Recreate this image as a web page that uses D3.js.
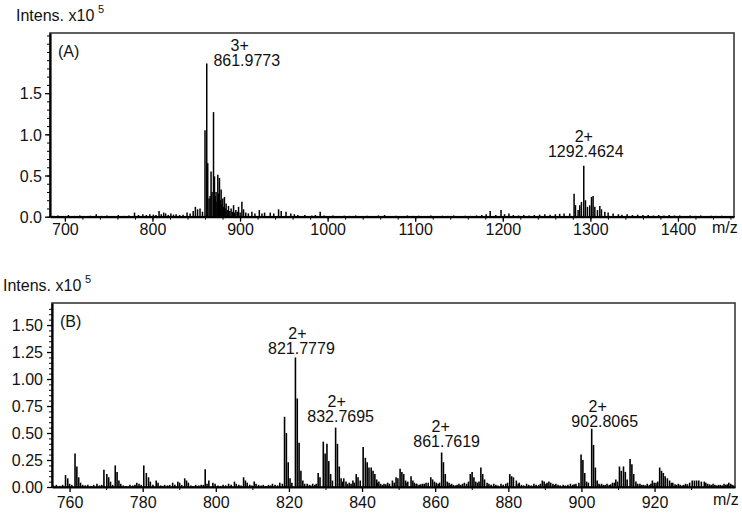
<!DOCTYPE html>
<meta charset="utf-8">

<head>
    <style>
        body {
            margin: 0;
            background: #fff;
        }

        svg text {
            font-family: "Liberation Sans", Arial, sans-serif;
            fill: #111;
        }

        .axis path,
        .axis line {
            stroke: #000;
        }

        .axis text {
            font-size: 16px;
        }
    </style>
</head>

<body>
    <script src="https://d3js.org/d3.v7.min.js"></script>
    <script>
        // ---- data: [m/z, intensity x10^5] ----
        var peaksA = [
            [735.8, 0.03], [779.5, 0.05], [789.0, 0.03], [797.0, 0.03], [807.5, 0.07], [812.8, 0.05],
            [815.0, 0.04], [821.0, 0.04], [827.0, 0.03], [839.5, 0.05], [843.0, 0.04], [846.5, 0.07],
            [849.0, 0.12], [851.5, 0.09], [854.3, 0.10], [857.1, 0.06], [860.0, 1.05], [861.9773, 1.86],
            [863.1, 0.65], [864.6, 0.22], [865.8, 0.25], [866.9, 0.55], [868.0, 0.30], [869.7, 1.27],
            [870.8, 0.49], [871.6, 0.25], [872.6, 0.30], [873.6, 0.18], [874.6, 0.51], [875.6, 0.28],
            [876.5, 0.47], [877.5, 0.20], [878.4, 0.33], [879.3, 0.15], [880.3, 0.22], [881.2, 0.12],
            [882.2, 0.24], [883.1, 0.10], [884.1, 0.16], [885.5, 0.08], [886.8, 0.13], [888.3, 0.07],
            [889.8, 0.10], [891.2, 0.06], [892.6, 0.14], [893.9, 0.05], [895.2, 0.08], [896.8, 0.06],
            [898.3, 0.12], [900.1, 0.05], [902.1, 0.18], [904.0, 0.09], [906.5, 0.05], [909.5, 0.04],
            [913.5, 0.06], [917.0, 0.04], [922.0, 0.08], [925.0, 0.04], [928.0, 0.05], [934.5, 0.05],
            [938.5, 0.04], [944.0, 0.09], [947.0, 0.07], [952.5, 0.06], [958.0, 0.04], [962.0, 0.03],
            [991.5, 0.06], [1185.6, 0.07], [1198.0, 0.08], [1207.0, 0.04], [1276.4, 0.04], [1281.4, 0.28],
            [1283.0, 0.14], [1286.0, 0.08], [1287.9, 0.14], [1289.8, 0.18], [1292.4624, 0.62], [1294.4, 0.20],
            [1296.7, 0.12], [1299.3, 0.14], [1301.3, 0.24], [1303.1, 0.25], [1305.1, 0.12], [1308.1, 0.08],
            [1310.8, 0.13], [1312.7, 0.09], [1316.5, 0.06], [1320.3, 0.05], [1326.0, 0.04], [1332.0, 0.03]
        ];
        var noiseA = [
            [686, 0.010], [692, 0.015], [698, 0.010], [704, 0.020], [711, 0.010], [717, 0.015], [723, 0.010],
            [729, 0.012], [742, 0.010], [748, 0.015], [755, 0.010], [761, 0.020], [767, 0.010], [773, 0.015],
            [784, 0.020], [793, 0.020], [801, 0.025], [804, 0.020], [810, 0.030], [818, 0.020], [824, 0.025],
            [831, 0.020], [835, 0.025], [966, 0.020], [974, 0.020], [982, 0.015], [986, 0.020], [996, 0.015],
            [1006, 0.015], [1012, 0.010], [1019, 0.012], [1025, 0.010], [1032, 0.015], [1038, 0.010],
            [1045, 0.012], [1052, 0.010], [1058, 0.015], [1065, 0.020], [1071, 0.010], [1078, 0.012],
            [1085, 0.010], [1091, 0.015], [1098, 0.010], [1104, 0.012], [1111, 0.010], [1118, 0.015],
            [1124, 0.010], [1131, 0.012], [1137, 0.010], [1144, 0.015], [1150, 0.010], [1157, 0.012],
            [1163, 0.010], [1170, 0.015], [1176, 0.020], [1181, 0.030], [1192, 0.020], [1202, 0.030],
            [1212, 0.020], [1218, 0.015], [1224, 0.020], [1230, 0.015], [1236, 0.020], [1242, 0.025],
            [1248, 0.030], [1254, 0.025], [1260, 0.030], [1265, 0.035], [1270, 0.040], [1336, 0.025],
            [1342, 0.030], [1348, 0.020], [1354, 0.025], [1360, 0.020], [1366, 0.020], [1372, 0.015],
            [1378, 0.020], [1384, 0.015], [1390, 0.020], [1396, 0.015], [1402, 0.015], [1408, 0.010],
            [1414, 0.015], [1420, 0.010], [1426, 0.015], [1432, 0.010], [1438, 0.012], [1444, 0.010],
            [1450, 0.012], [1456, 0.010], [1462, 0.010]
        ];

        var peaksB = [
            [758.9, 0.11], [759.5, 0.08], [760.0, 0.03], [761.5, 0.31], [762.0, 0.19], [762.5, 0.09], [763.0, 0.04],
            [765.0, 0.02], [767.5, 0.03], [769.4, 0.16], [770.2, 0.12], [770.7, 0.09], [771.2, 0.05], [772.5, 0.20],
            [773.0, 0.14], [773.5, 0.06], [774.0, 0.03], [776.5, 0.02], [778.4, 0.04], [779.0, 0.03], [780.3, 0.20],
            [781.0, 0.13], [781.6, 0.09], [782.1, 0.05], [783.7, 0.06], [784.2, 0.04], [786.0, 0.02], [788.2, 0.04],
            [789.6, 0.05], [790.1, 0.04], [791.5, 0.08], [792.0, 0.06], [792.5, 0.04], [794.5, 0.02], [797.1, 0.165],
            [798.1, 0.06], [799.2, 0.04], [799.8, 0.03], [802.0, 0.02], [803.5, 0.03], [805.1, 0.05], [805.6, 0.03],
            [807.6, 0.09], [808.1, 0.06], [808.6, 0.04], [810.5, 0.05], [811.0, 0.03], [813.0, 0.02], [815.5, 0.03],
            [817.5, 0.04], [818.8, 0.65], [819.3, 0.50], [819.8, 0.23], [820.3, 0.08], [821.7779, 1.20], [822.28, 0.82],
            [822.78, 0.41], [823.28, 0.15], [823.8, 0.06], [825.0, 0.03], [826.5, 0.03], [828.0, 0.13], [828.5, 0.09],
            [829.4, 0.42], [829.9, 0.31], [830.4, 0.40], [830.9, 0.24], [831.4, 0.12], [832.7695, 0.55], [833.27, 0.40],
            [833.77, 0.19], [834.27, 0.08], [835.0, 0.08], [835.6, 0.05], [836.5, 0.04], [837.5, 0.06], [838.4, 0.12],
            [838.9, 0.09], [840.3, 0.37], [840.9, 0.27], [841.4, 0.23], [841.9, 0.18], [842.5, 0.18], [843.0, 0.15],
            [843.5, 0.12], [844.0, 0.07], [844.6, 0.05], [846.0, 0.03], [847.0, 0.04], [848.3, 0.06], [849.3, 0.09],
            [849.8, 0.08], [850.4, 0.17], [850.9, 0.14], [851.4, 0.12], [851.9, 0.06], [852.5, 0.05], [853.4, 0.10],
            [853.9, 0.06], [855.0, 0.03], [856.5, 0.03], [857.5, 0.04], [858.8, 0.09], [859.3, 0.07], [860.3, 0.04],
            [861.7619, 0.32], [862.26, 0.23], [862.76, 0.12], [863.3, 0.05], [864.5, 0.03], [866.5, 0.03], [868.0, 0.04],
            [869.6, 0.12], [870.1, 0.14], [870.6, 0.09], [871.1, 0.05], [872.5, 0.18], [873.0, 0.12], [873.5, 0.07],
            [874.2, 0.04], [876.0, 0.03], [878.0, 0.03], [880.4, 0.12], [880.9, 0.10], [881.4, 0.09], [882.2, 0.06],
            [883.0, 0.04], [885.0, 0.03], [887.0, 0.03], [889.3, 0.06], [889.8, 0.05], [891.1, 0.05], [891.6, 0.04],
            [893.0, 0.03], [895.0, 0.02], [897.0, 0.03], [898.5, 0.03], [899.9, 0.30], [900.4, 0.25], [900.9, 0.13],
            [901.4, 0.05], [902.8065, 0.54], [903.31, 0.39], [903.81, 0.18], [904.3, 0.06], [905.5, 0.03], [907.0, 0.03],
            [908.5, 0.04], [909.4, 0.07], [910.4, 0.19], [910.9, 0.15], [911.5, 0.19], [912.0, 0.14], [912.5, 0.07],
            [913.3, 0.26], [913.8, 0.21], [914.3, 0.12], [914.9, 0.05], [916.0, 0.03], [918.0, 0.03], [919.4, 0.06],
            [920.4, 0.04], [921.4, 0.18], [921.9, 0.15], [922.4, 0.13], [922.9, 0.10], [923.5, 0.08], [924.1, 0.06],
            [925.0, 0.04], [926.5, 0.03], [928.5, 0.03], [930.3, 0.06], [930.9, 0.06], [931.5, 0.06], [932.1, 0.06],
            [932.8, 0.05], [933.6, 0.05], [934.5, 0.03], [936.0, 0.03], [937.5, 0.02], [939.0, 0.03], [940.3, 0.04],
            [941.2, 0.02]
        ];
        var noiseB = [
            [755.6, 0.015], [756.4, 0.02], [757.3, 0.01], [758.1, 0.02], [760.6, 0.02], [763.6, 0.02], [764.3, 0.015],
            [765.8, 0.01], [766.6, 0.02], [768.2, 0.015], [768.8, 0.02], [771.8, 0.02], [774.7, 0.015], [775.5, 0.01],
            [777.3, 0.015], [777.9, 0.02], [779.6, 0.02], [782.8, 0.02], [784.9, 0.015], [785.4, 0.01], [786.8, 0.015],
            [787.4, 0.02], [788.8, 0.02], [790.7, 0.02], [793.2, 0.015], [793.8, 0.01], [795.3, 0.015], [796.0, 0.02],
            [796.6, 0.02], [797.6, 0.03], [800.6, 0.015], [801.3, 0.01], [802.7, 0.015], [804.2, 0.02], [806.3, 0.02],
            [806.9, 0.015], [809.3, 0.02], [809.9, 0.015], [811.7, 0.02], [812.4, 0.015], [813.7, 0.01], [814.4, 0.02],
            [815.0, 0.015], [816.2, 0.02], [816.9, 0.015], [818.2, 0.03], [820.8, 0.04], [824.3, 0.03], [825.6, 0.02],
            [826.0, 0.015], [827.1, 0.02], [827.5, 0.03], [831.9, 0.06], [834.7, 0.05], [836.0, 0.03], [837.0, 0.03],
            [837.9, 0.04], [839.5, 0.06], [844.3, 0.04], [845.1, 0.03], [845.6, 0.02], [846.5, 0.025], [847.5, 0.03],
            [848.8, 0.04], [852.0, 0.04], [854.3, 0.04], [854.8, 0.03], [855.6, 0.02], [856.0, 0.025], [857.0, 0.03],
            [858.1, 0.04], [859.8, 0.05], [860.8, 0.03], [861.2, 0.04], [863.8, 0.04], [864.1, 0.02], [865.0, 0.02],
            [865.6, 0.015], [866.0, 0.02], [867.0, 0.02], [867.5, 0.03], [868.6, 0.03], [869.1, 0.05], [871.6, 0.04],
            [872.0, 0.05], [874.7, 0.03], [875.3, 0.02], [876.6, 0.02], [877.2, 0.015], [878.6, 0.02], [879.3, 0.03],
            [879.8, 0.04], [882.7, 0.03], [883.6, 0.02], [884.2, 0.015], [885.6, 0.02], [886.3, 0.015], [887.6, 0.02],
            [888.3, 0.02], [888.8, 0.03], [890.3, 0.03], [890.6, 0.04], [892.2, 0.03], [892.6, 0.02], [893.6, 0.02],
            [894.2, 0.015], [895.6, 0.015], [896.3, 0.02], [897.6, 0.02], [898.0, 0.025], [899.3, 0.04], [901.9, 0.04],
            [904.8, 0.03], [905.0, 0.02], [906.0, 0.02], [906.5, 0.02], [907.6, 0.02], [908.0, 0.025], [909.0, 0.04],
            [909.9, 0.05], [915.4, 0.03], [916.5, 0.02], [917.0, 0.02], [917.5, 0.015], [918.6, 0.02], [919.0, 0.03],
            [919.9, 0.04], [920.9, 0.05], [924.6, 0.04], [925.6, 0.025], [926.0, 0.02], [927.0, 0.02], [927.6, 0.015],
            [928.0, 0.02], [929.0, 0.025], [929.6, 0.04], [934.0, 0.04], [935.0, 0.025], [935.5, 0.02], [936.5, 0.02],
            [937.0, 0.015], [938.0, 0.02], [938.5, 0.015], [939.5, 0.02], [939.9, 0.025], [940.8, 0.03], [941.6, 0.015]
        ];

        // annotated peaks: [m/z, charge]
        var annotA = [[861.9773, "3+"], [1292.4624, "2+"]];
        var annotB = [[821.7779, "2+"], [832.7695, "2+"], [861.7619, "2+"], [902.8065, "2+"]];

        // tick values
        var xTicksA = [700, 800, 900, 1000, 1100, 1200, 1300, 1400];
        var yTicksA = [0, 0.5, 1.0, 1.5];
        var xTicksB = [760, 780, 800, 820, 840, 860, 880, 900, 920];
        var yTicksB = [0, 0.25, 0.5, 0.75, 1.0, 1.25, 1.5];

        var svg = d3.select("body").append("svg")
            .attr("width", 742)
            .attr("height", 516);

        // one spectrum panel
        function drawPanel(p) {
            var x = d3.scaleLinear().domain(p.xDomain).range([p.left, p.right]);
            var y = d3.scaleLinear().domain(p.yDomain).range([p.bottom, p.top]);
            var g = svg.append("g");

            // frame (top/right grey)
            g.append("rect")
                .attr("x", p.left)
                .attr("y", p.top)
                .attr("width", p.right - p.left)
                .attr("height", p.bottom - p.top)
                .style("fill", "none")
                .style("stroke", "#3a3a3a")
                .style("stroke-width", 1.6);

            // noise + peaks as sticks
            var all = p.noise.concat(p.peaks);
            g.selectAll(".stick")
                .data(all)
                .enter().append("line")
                .attr("class", "stick")
                .attr("x1", function(d) { return x(d[0]); })
                .attr("x2", function(d) { return x(d[0]); })
                .attr("y1", y(0))
                .attr("y2", function(d) { return y(d[1]); })
                .style("stroke", "#000")
                .style("stroke-width", p.stick);

            // minor ticks
            g.append("g")
                .attr("class", "axis")
                .attr("transform", "translate(0," + p.bottom + ")")
                .call(d3.axisBottom(x).tickValues(p.xMinor).tickSize(3).tickFormat(""))
                .select(".domain").remove();
            g.append("g")
                .attr("class", "axis")
                .attr("transform", "translate(" + p.left + ",0)")
                .call(d3.axisLeft(y).tickValues(p.yMinor).tickSize(3).tickFormat(""))
                .select(".domain").remove();

            // major axes
            var xa = g.append("g")
                .attr("class", "axis")
                .attr("transform", "translate(0," + p.bottom + ")")
                .call(d3.axisBottom(x).tickValues(p.xTicks).tickSize(5).tickSizeOuter(0)
                    .tickPadding(p.xPad).tickFormat(d3.format("d")));
            xa.select(".domain").style("stroke-width", 2.2);
            xa.selectAll("line").style("stroke-width", 1.3);

            var ya = g.append("g")
                .attr("class", "axis")
                .attr("transform", "translate(" + p.left + ",0)")
                .call(d3.axisLeft(y).tickValues(p.yTicks).tickSize(5).tickSizeOuter(0)
                    .tickPadding(p.yPad).tickFormat(d3.format(p.yFmt)));
            ya.select(".domain").style("stroke-width", 2.2);
            ya.selectAll("line").style("stroke-width", 1.3);
            ya.selectAll("text").attr("dy", "0.36em");

            // y title
            g.append("text")
                .attr("x", p.titleX)
                .attr("y", p.titleY)
                .style("font-size", "16px")
                .text("Intens. x10");
            g.append("text")
                .attr("x", p.titleX + 82)
                .attr("y", p.titleY - 8)
                .style("font-size", "11px")
                .text("5");

            g.append("text")
                .attr("x", p.left + 8)
                .attr("y", p.top + 24)
                .style("font-size", "16px")
                .text(p.name);

            g.append("text")
                .attr("x", p.right - 22)
                .attr("y", p.bottom + p.mzDy)
                .style("font-size", "16px")
                .text("m/z");

            // peak annotations
            p.annot.forEach(function(a, i) {
                var pk = p.peaks.filter(function(d) { return d[0] === a[0]; })[0];
                var o = p.annotOff[i];
                var px = x(pk[0]), py = y(pk[1]);
                g.append("text")
                    .attr("x", px + o[0])
                    .attr("y", py + o[2])
                    .attr("text-anchor", "middle")
                    .style("font-size", "16px")
                    .text(d3.format(".4f")(a[0]));
                g.append("text")
                    .attr("x", px + o[1])
                    .attr("y", py + o[2] - 15)
                    .attr("text-anchor", "middle")
                    .style("font-size", "16px")
                    .text(a[1]);
            });
        }

        drawPanel({
            name: "(A)",
            left: 50, right: 734, top: 33, bottom: 216.7,
            xDomain: [683, 1464], yDomain: [0, 2.23],
            peaks: peaksA, noise: noiseA, stick: 1.5,
            xTicks: xTicksA, yTicks: yTicksA,
            xMinor: d3.range(700, 1461, 20), yMinor: d3.range(0, 2.21, 0.1),
            xPad: 2, yPad: 3, yFmt: ".1f",
            titleX: 16, titleY: 21, mzDy: 16,
            annot: annotA,
            annotOff: [[40, 33, 3], [2, 0, -9]]
        });

        drawPanel({
            name: "(B)",
            left: 52, right: 735, top: 303, bottom: 487,
            xDomain: [755.2, 942], yDomain: [0, 1.704],
            peaks: peaksB, noise: noiseB, stick: 1.6,
            xTicks: xTicksB, yTicks: yTicksB,
            xMinor: d3.range(770, 941, 20), yMinor: d3.range(0, 1.70, 0.05),
            xPad: 5, yPad: 4, yFmt: ".2f",
            titleX: 3, titleY: 291, mzDy: 18,
            annot: annotB,
            annotOff: [[6, 2, -3], [5, 1, -6], [5, -1, -5], [13, 6, -2]]
        });
    </script>
</body>
